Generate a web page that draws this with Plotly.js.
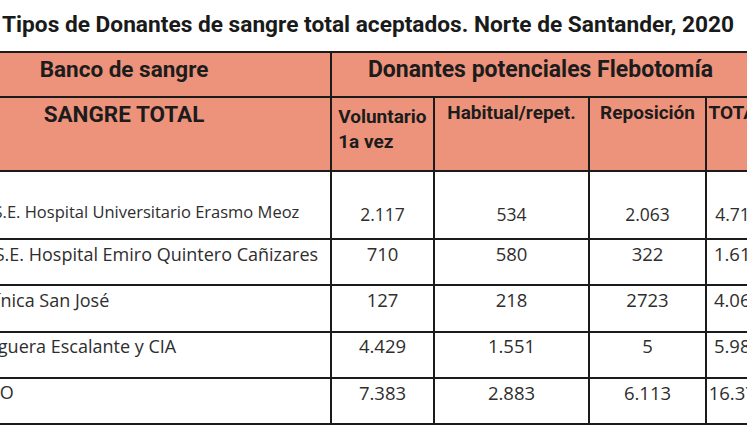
<!DOCTYPE html>
<html>
<head>
<meta charset="utf-8">
<script src="https://cdn.plot.ly/plotly-3.0.1.min.js"></script>
<style>
  html, body { margin: 0; padding: 0; overflow: hidden; background: #fff; }
  /* the reference is a crop: left edge of the table is cut off */
  #chart { position: absolute; left: -83px; top: 0; }
</style>
</head>
<body>
<div id="chart"></div>
<script>
const tituloGrafico = 'Tipos de Donantes de sangre total aceptados. Norte de Santander, 2020';

const encabezado1 = ['Banco de sangre', 'Donantes potenciales Flebotomía'];
const encabezado2 = ['SANGRE TOTAL', 'Voluntario<br>1a vez', 'Habitual/repet.', 'Reposición', 'TOTAL'];

const bancos = [
  'E.S.E. Hospital Universitario Erasmo Meoz',
  'E.S.E. Hospital Emiro Quintero Cañizares',
  'Clínica San José',
  'Higuera Escalante y CIA',
  'ESO'
];
const voluntario = ['2.117', '710', '127', '4.429', '7.383'];
const habitual = ['534', '580', '218', '1.551', '2.883'];
const reposicion = ['2.063', '322', '2723', '5', '6.113'];
const totales = ['4.714', '1.612', '4.068', '5.985', '16.379'];

const W = 852, H = 427;
const salmon = '#EE937B';
const borde = '#1b1b1b';
const yTop = px => 1 - px / H;
// linea vacia arriba: las tablas de plotly alinean el texto arriba
const bajar = s => '\u00a0<br>' + s;

// fila 1 del encabezado (celda combinada), el borde derecho queda fuera de la vista
const t1 = {
  type: 'table',
  domain: { x: [0, 833 / W], y: [0, yTop(52)] },
  columnwidth: [414, 419],
  header: {
    values: encabezado1.map(v => [v]),
    height: 45,
    align: 'center',
    fill: { color: salmon },
    line: { color: borde, width: 2 },
    font: { family: 'Roboto', size: [22.5, 23], color: '#1c1c1c', weight: 700 }
  },
  cells: { values: [] }
};

// fila 2 del encabezado
const t2 = {
  type: 'table',
  domain: { x: [0, 1], y: [0, yTop(97)] },
  columnwidth: [414, 103, 155, 117, 63],
  header: {
    values: encabezado2.map(v => [v]),
    height: 74,
    align: 'center',
    fill: { color: salmon },
    line: { color: borde, width: 2 },
    font: { family: 'Roboto', size: [22.5, 19, 19, 19, 19], color: '#1c1c1c', weight: 700 }
  },
  cells: { values: [] }
};

// filas de datos; la primera va como "header" porque es mas alta
const cols = [['', '', '', '', ''], bancos, voluntario, habitual, reposicion, totales];
const t3 = {
  type: 'table',
  domain: { x: [0, 1], y: [0, yTop(171)] },
  columnwidth: [55, 359, 103, 155, 117, 63],
  header: {
    values: cols.map(c => [bajar(c[0])]),
    height: 68,
    align: ['left', 'left', 'center', 'center', 'center', 'center'],
    fill: { color: '#ffffff' },
    line: { color: borde, width: 2 },
    font: { family: 'Open Sans', size: [15, 16.5, 17.5, 17.5, 17.5, 17.5], color: '#2e2e2e' }
  },
  cells: {
    values: cols.map(c => c.slice(1)),
    height: 46.25,
    align: ['left', 'left', 'center', 'center', 'center', 'center'],
    fill: { color: '#ffffff' },
    line: { color: borde, width: 2 },
    font: { family: 'Open Sans', size: [18, 18, 18.5, 18.5, 18.5, 18.5], color: '#2e2e2e' }
  }
};

const layout = {
  width: W,
  height: H,
  margin: { l: 0, r: 0, t: 0, b: 0 },
  paper_bgcolor: '#ffffff',
  showlegend: false,
  title: {
    text: tituloGrafico,
    xref: 'paper', yref: 'paper',
    x: 85 / W, xanchor: 'left',
    y: yTop(24), yanchor: 'middle',
    font: { family: 'Roboto', size: 22.7, color: '#1a1a1a', weight: 700 }
  }
};

Plotly.newPlot('chart', [t1, t2, t3], layout, { displayModeBar: false, staticPlot: true });
</script>
</body>
</html>
